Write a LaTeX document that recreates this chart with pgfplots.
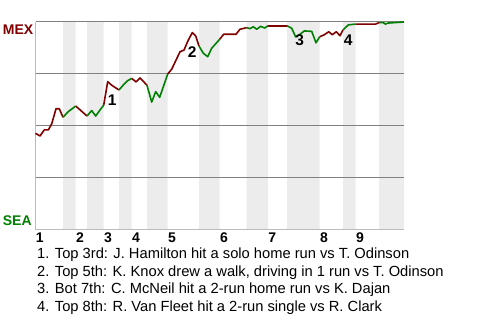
\documentclass[border=0pt]{standalone}
\usepackage{pgfplots}
\pgfplotsset{compat=1.18}
\usepackage{pgfplotstable}
\usepackage{fontspec}
\setmainfont{Liberation Sans}
\definecolor{mexred}{HTML}{800000}
\definecolor{seagreen}{HTML}{008000}
\definecolor{band}{HTML}{ECECEC}
\definecolor{gridc}{HTML}{808080}
\definecolor{axc}{HTML}{BBBBBB}
\pgfplotstableread{
x y
35.5 46.5
40 45.2
44.3 48.1
48.3 48.1
51.7 51.0
56 58.3
59.3 58.3
63 54.2
68.3 56.9
75.7 59.6
87 54.8
91.7 57.4
95.7 54.8
100 57.7
103.7 60.0
107.7 71.3
111.7 69.6
119 67.3
123.3 69.7
127.7 71.8
131.7 72.9
136 71.2
140 73.1
147 69.6
151.7 61.5
155.7 66.5
159.7 63.8
167.7 75.0
171.7 77.3
180 85.7
184 86.5
188.3 91.3
192.3 94.9
195.7 93.3
199 88.4
203.3 85.0
207.7 83.3
211.7 87.4
219.7 91.7
223.7 94.1
236 94.1
240 96.5
242.7 96.8
246.7 97.3
250 96.8
253.3 97.7
256.7 96.5
260.7 97.9
264.7 97.1
268 98.2
287 98.2
291.7 97.0
295.7 92.8
300 94.1
304.3 95.7
311.7 95.5
316 90.0
319.7 92.9
324 93.8
328.7 95.3
332.3 93.9
336.3 95.3
340 93.4
343 96.2
348.3 98.6
355.7 99.0
375.7 99.0
379 99.7
383.3 99.7
385.3 99.0
388.3 99.5
404 100
}\wp
\begin{document}
\begin{tikzpicture}
\begin{axis}[
  set layers,
  at={(35.5pt,90pt)}, anchor=south west,
  scale only axis, width=368.5pt, height=208pt,
  xmin=35.5, xmax=404, ymin=0, ymax=100,
  axis lines*=left,
  axis line style={-, draw=axc, line width=1pt},
  xtick={35.5,75.7,103.7,131.7,167.7,219.7,268,319.7,355.7},
  xticklabels={1,2,3,4,5,6,7,8,9},
  xticklabel style={anchor=north west, inner sep=0pt, xshift=0.2pt, yshift=-2.5pt, font=\fontsize{14}{14}\selectfont\bfseries},
  /pgf/number format/assume math mode=true,
  ytick={25,50,75,100}, yticklabels={},
  major tick length=0pt,
  ymajorgrids, grid style={draw=gridc, line width=1pt},
  clip=false,
]
\addplot[on layer=axis background, const plot, fill=band, draw=none] coordinates {
 (35.5,0) (63,100) (75.7,0) (87,100) (103.7,0) (119,100) (131.7,0) (147,100)
 (167.7,0) (199,100) (219.7,0) (246.7,100) (268,0) (287,100) (319.7,0)
 (343,100) (355.7,0) (379,100) (404,100)} \closedcycle;
% top halves (MEX batting)
\addplot[mexred, line width=1.6pt, line join=round, restrict x to domain=35.4:63.05] table[x=x,y=y] {\wp};
\addplot[mexred, line width=1.6pt, line join=round, restrict x to domain=75.65:87.05] table[x=x,y=y] {\wp};
\addplot[mexred, line width=1.6pt, line join=round, restrict x to domain=103.65:119.05] table[x=x,y=y] {\wp};
\addplot[mexred, line width=1.6pt, line join=round, restrict x to domain=131.65:147.05] table[x=x,y=y] {\wp};
\addplot[mexred, line width=1.6pt, line join=round, restrict x to domain=167.65:199.05] table[x=x,y=y] {\wp};
\addplot[mexred, line width=1.6pt, line join=round, restrict x to domain=219.65:246.75] table[x=x,y=y] {\wp};
\addplot[mexred, line width=1.6pt, line join=round, restrict x to domain=267.95:287.05] table[x=x,y=y] {\wp};
\addplot[mexred, line width=1.6pt, line join=round, restrict x to domain=319.65:343.05] table[x=x,y=y] {\wp};
\addplot[mexred, line width=1.6pt, line join=round, restrict x to domain=355.65:379.05] table[x=x,y=y] {\wp};
% bottom halves (SEA batting)
\addplot[seagreen, line width=1.6pt, line join=round, restrict x to domain=62.95:75.75] table[x=x,y=y] {\wp};
\addplot[seagreen, line width=1.6pt, line join=round, restrict x to domain=86.95:103.75] table[x=x,y=y] {\wp};
\addplot[seagreen, line width=1.6pt, line join=round, restrict x to domain=118.95:131.75] table[x=x,y=y] {\wp};
\addplot[seagreen, line width=1.6pt, line join=round, restrict x to domain=146.95:167.75] table[x=x,y=y] {\wp};
\addplot[seagreen, line width=1.6pt, line join=round, restrict x to domain=198.95:219.75] table[x=x,y=y] {\wp};
\addplot[seagreen, line width=1.6pt, line join=round, restrict x to domain=246.65:268.05] table[x=x,y=y] {\wp};
\addplot[seagreen, line width=1.6pt, line join=round, restrict x to domain=286.95:319.75] table[x=x,y=y] {\wp};
\addplot[seagreen, line width=1.6pt, line join=round, restrict x to domain=342.95:355.75] table[x=x,y=y] {\wp};
\addplot[seagreen, line width=1.6pt, line join=round, restrict x to domain=378.95:404.1] table[x=x,y=y] {\wp};
\node[font=\fontsize{15.5}{15.5}\selectfont\bfseries, inner sep=0pt] at (axis cs:112.2,62.6) {1};
\node[font=\fontsize{15.5}{15.5}\selectfont\bfseries, inner sep=0pt] at (axis cs:192.2,85.5) {2};
\node[font=\fontsize{15.5}{15.5}\selectfont\bfseries, inner sep=0pt] at (axis cs:299.7,91.3) {3};
\node[font=\fontsize{15.5}{15.5}\selectfont\bfseries, inner sep=0pt] at (axis cs:348.3,91.5) {4};
\end{axis}
\node[anchor=base west, inner sep=0pt, text=mexred, font=\fontsize{14}{14}\selectfont\bfseries] at (2.7pt,285.7pt) {MEX};
\node[anchor=base west, inner sep=0pt, text=seagreen, font=\fontsize{14}{14}\selectfont\bfseries] at (2.7pt,94pt) {SEA};
\begin{scope}[every node/.style={anchor=base west, inner sep=0pt, font=\fontsize{14.7}{14.7}\selectfont}]
\node at (37pt,61.5pt) {1. Top 3rd: J. Hamilton hit a solo home run vs T. Odinson};
\node at (37pt,43.8pt) {2. Top 5th: K. Knox drew a walk, driving in 1 run vs T. Odinson};
\node at (37pt,26.1pt) {3. Bot 7th: C. McNeil hit a 2-run home run vs K. Dajan};
\node at (37pt,8.4pt) {4. Top 8th: R. Van Fleet hit a 2-run single vs R. Clark};
\end{scope}
\path (0pt,0pt) rectangle (480pt,320pt);
\end{tikzpicture}
\end{document}
